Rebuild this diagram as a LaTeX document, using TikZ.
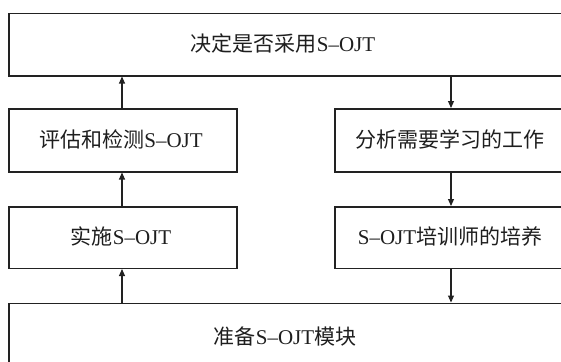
\documentclass[tikz,border=0pt]{standalone}
\usepackage{fontspec}
\setmainfont{Liberation Serif}
\newfontfamily\cjk{Noto Sans CJK SC}
\usetikzlibrary{arrows.meta}
\definecolor{linec}{HTML}{222222}
\definecolor{textc}{HTML}{1E1E1E}
\begin{document}
\begin{tikzpicture}[x=1pt,y=-1pt,
 box/.style={draw=linec, line width=1.5pt, rectangle, inner sep=0pt, anchor=north west},
 lbl/.style={font=\fontsize{21}{25}\selectfont, text=textc, inner sep=0pt},
 arr/.style={draw=linec, line width=1.1pt, -{Triangle[length=7pt,width=6pt]}}]
\useasboundingbox (0,0) rectangle (561,361);
\clip (0,0) rectangle (561,361);
% boxes
\node[box, minimum width=570pt, minimum height=62.3pt] (top) at (8,12.7) {};
\node[box, minimum width=228pt, minimum height=63pt] (l1) at (8,108) {};
\node[box, minimum width=228pt, minimum height=61.5pt] (l2) at (8,206) {};
\node[box, minimum width=250pt, minimum height=63pt] (r1) at (334,108) {};
\node[box, minimum width=250pt, minimum height=61.5pt] (r2) at (334,206) {};
\node[box, minimum width=580pt, minimum height=80pt] (bot) at (8,302.5) {};
% labels
\node[lbl] (toptext) at (283,43.8) {{\cjk 决定是否采用}S–OJT};
\node[lbl] (l1text) at (121,139.5) {{\cjk 评估和检测}S–OJT};
\node[lbl] (l2text) at (121,236.5) {{\cjk 实施}S–OJT};
\node[lbl] (r1text) at (450,139.5) {\cjk 分析需要学习的工作};
\node[lbl] (r2text) at (450,236.5) {S–OJT{\cjk 培训师的培养}};
\node[lbl] (bottext) at (285,337) {{\cjk 准备}S–OJT{\cjk 模块}};
% arrow columns
\coordinate (lx) at (122,0);
\coordinate (rx) at (451,0);
% left column, upward
\draw[arr] (lx |- bot.north) -- (lx |- l2.south);
\draw[arr] (lx |- l2.north) -- (lx |- l1.south);
\draw[arr] (lx |- l1.north) -- (lx |- top.south);
% right column, downward
\draw[arr] (rx |- top.south) -- (rx |- r1.north);
\draw[arr] (rx |- r1.south) -- (rx |- r2.north);
\draw[arr] (rx |- r2.south) -- (rx |- bot.north);
\end{tikzpicture}
\end{document}
